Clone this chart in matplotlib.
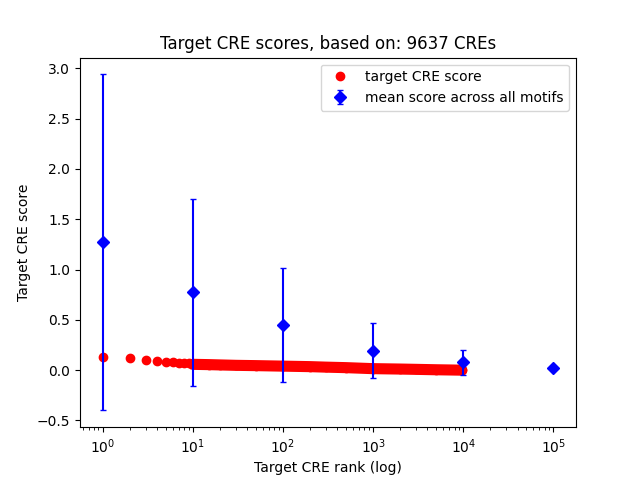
import matplotlib
matplotlib.use("Agg")
import matplotlib.pyplot as plt

# target CRE scores (rank, score)
rangos = [1, 2, 3, 4, 5, 6, 7, 8, 9, 10, 15, 20, 30, 50, 100, 200, 300, 500,
          1000, 2000, 3000, 5000, 9637]
scores = [0.13, 0.117, 0.098, 0.093, 0.085, 0.08, 0.075, 0.072, 0.068, 0.058,
          0.055, 0.052, 0.048, 0.045, 0.04, 0.035, 0.03, 0.025,
          0.015, 0.011, 0.008, 0.004, 0.0]

# mean score across all motifs + error
rango_medio = [1, 10, 100, 1000, 10000, 100000]
media = [1.27, 0.775, 0.446, 0.195, 0.077, 0.017]
error = [1.67, 0.93, 0.565, 0.27, 0.125, 0.0]

fig = plt.figure(figsize=(6.4, 4.8), dpi=100)
ax = fig.add_subplot(1, 1, 1)

# dense band of dots
ax.plot(rangos[9:], scores[9:], '-', color='red', lw=8, solid_capstyle='round')
ax.plot(rangos, scores, 'ro', label='target CRE score')
ax.errorbar(rango_medio, media, yerr=error, fmt='bD', capsize=2,
            label='mean score across all motifs')

ax.set_xscale('log')
ax.set_title('Target CRE scores, based on: 9637 CREs')
ax.set_xlabel('Target CRE rank (log)')
ax.set_ylabel('Target CRE score')
ax.legend(loc='upper right')

fig.savefig('out.png')
